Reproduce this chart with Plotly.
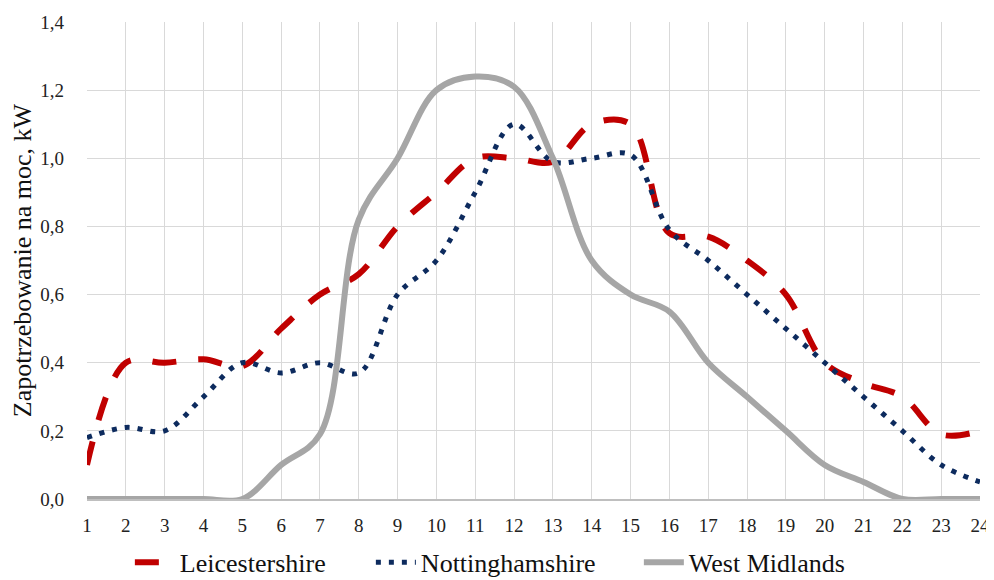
import plotly.graph_objects as go

hours = list(range(1, 25))
tick_vals_y = [0.0, 0.2, 0.4, 0.6, 0.8, 1.0, 1.2, 1.4]

leicestershire = [0.10, 0.40, 0.40, 0.41, 0.39, 0.50, 0.60, 0.66, 0.80, 0.90, 1.00, 1.00,
                  0.99, 1.10, 1.10, 0.78, 0.77, 0.70, 0.60, 0.40, 0.34, 0.30, 0.19, 0.20]
nottinghamshire = [0.18, 0.21, 0.20, 0.30, 0.40, 0.37, 0.40, 0.37, 0.60, 0.70, 0.90, 1.10,
                   0.99, 1.00, 1.01, 0.79, 0.70, 0.60, 0.50, 0.40, 0.30, 0.20, 0.10, 0.05]
west_midlands = [0.0, 0.0, 0.0, 0.0, 0.0, 0.10, 0.19, 0.82, 1.00, 1.20, 1.24, 1.21,
                 1.00, 0.70, 0.60, 0.55, 0.40, 0.30, 0.20, 0.10, 0.05, 0.0, 0.0, 0.0]

FONT = "Liberation Serif"

fig = go.Figure()
fig.add_trace(go.Scatter(
    x=hours, y=leicestershire, name="Leicestershire", mode="lines", legendwidth=186,
    line=dict(color="#c00000", width=6, dash="24px,22px", shape="spline", smoothing=1.0),
))
fig.add_trace(go.Scatter(
    x=hours, y=nottinghamshire, name="Nottinghamshire", mode="lines", legendwidth=213,
    line=dict(color="#0d2b5e", width=5, dash="5px,8px", shape="spline", smoothing=1.0),
))
fig.add_trace(go.Scatter(
    x=hours, y=west_midlands, name="West Midlands", mode="lines", legendwidth=170,
    line=dict(color="#a6a6a6", width=6, shape="spline", smoothing=1.0),
))

# the page body adds an 8px offset, so the figure is sized to compensate
fig.update_layout(
    width=986, height=572,
    margin=dict(l=79, r=14, t=14, b=81, autoexpand=False),
    plot_bgcolor="white", paper_bgcolor="white",
    separators=", ",
    font=dict(family=FONT, color="#222222", size=19),
    showlegend=True,
    legend=dict(orientation="h", x=0.048, xanchor="left", y=-0.133, yanchor="middle",
                font=dict(family=FONT, size=26, color="#111111"),
                traceorder="normal", itemwidth=40),
)
fig.update_xaxes(
    range=[1, 24], tickmode="array", tickvals=hours, ticktext=[str(h) for h in hours],
    showgrid=True, gridcolor="#d9d9d9", gridwidth=1,
    showline=True, linecolor="#bfbfbf", linewidth=2,
    zeroline=False, ticks="", ticklabelstandoff=8,
    tickfont=dict(family=FONT, size=19, color="#222222"),
)
fig.update_yaxes(
    range=[0, 1.4], tickmode="array", tickvals=tick_vals_y, tickformat=".1f",
    showgrid=True, gridcolor="#d9d9d9", gridwidth=1,
    showline=False, zeroline=False, ticks="", ticklabelstandoff=22,
    tickfont=dict(family=FONT, size=19, color="#222222"),
    title=dict(text="Zapotrzebowanie na moc, kW", font=dict(family=FONT, size=26, color="#111111"),
               standoff=6),
)

fig.write_html("out.html")
